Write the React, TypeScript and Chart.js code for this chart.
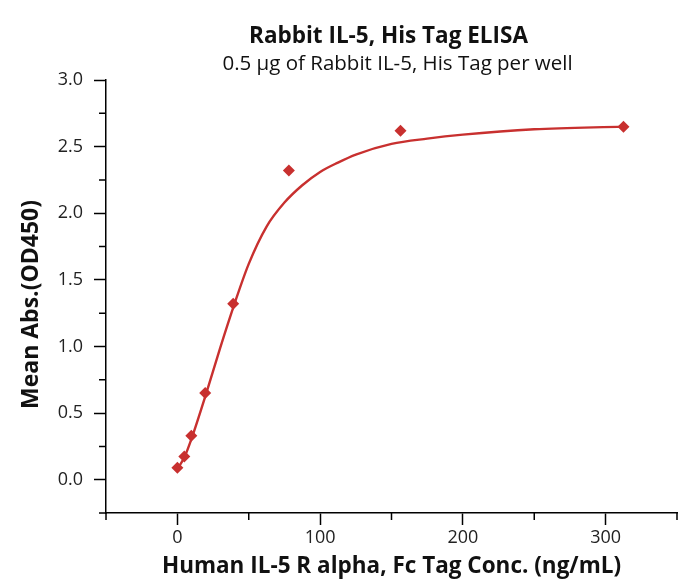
import React, { useEffect, useRef } from 'react';
import { Chart, registerables } from 'chart.js';

Chart.register(...registerables);

const TITLE = 'Rabbit IL-5, His Tag ELISA';
const SUBTITLE = '0.5 µg of Rabbit IL-5, His Tag per well';
const X_TITLE = 'Human IL-5 R alpha, Fc Tag Conc. (ng/mL)';
const Y_TITLE = 'Mean Abs.(OD450)';

// measured points
const concentrations = [0, 4.88, 9.77, 19.5, 39.1, 78.1, 156.3, 312.5];
const meanAbs = [0.09, 0.175, 0.33, 0.65, 1.32, 2.32, 2.62, 2.65];

// fitted curve
const fitX = [0, 5, 10, 20, 30, 40, 50, 62.5, 75, 87.5, 100, 112.5, 125, 150, 175, 200, 250, 312.5];
const fitY = [0.08, 0.17, 0.31, 0.64, 0.99, 1.32, 1.62, 1.9, 2.08, 2.21, 2.31, 2.38, 2.44, 2.52, 2.56, 2.59, 2.63, 2.65];

const xMajorTicks = [0, 100, 200, 300];
const xMinorTicks = [-50, 50, 150, 250, 350];
const yMajorTicks = [0, 0.5, 1, 1.5, 2, 2.5, 3];
const yMinorTicks = [-0.25, 0.25, 0.75, 1.25, 1.75, 2.25, 2.75];

const RED = '#c8302f';
const FONT = "'Open Sans', 'DejaVu Sans', sans-serif";

export default function App() {
  const ref = useRef<HTMLCanvasElement | null>(null);

  useEffect(() => {
    if (!ref.current) return;

    const decorations = {
      id: 'decorations',
      afterDraw(chart: any) {
        const ctx = chart.ctx;
        const xs = chart.scales.x;
        const ys = chart.scales.y;
        const area = chart.chartArea;
        ctx.save();
        ctx.strokeStyle = '#000';
        ctx.lineWidth = 1.5;
        ctx.beginPath();
        xMinorTicks.forEach((v) => {
          const px = xs.getPixelForValue(v);
          ctx.moveTo(px, area.bottom);
          ctx.lineTo(px, area.bottom + 7);
        });
        yMinorTicks.forEach((v) => {
          const py = ys.getPixelForValue(v);
          ctx.moveTo(area.left - 7, py);
          ctx.lineTo(area.left, py);
        });
        ctx.stroke();

        const cx = (area.left + area.right) / 2;
        ctx.fillStyle = '#111';
        ctx.textAlign = 'center';
        ctx.textBaseline = 'alphabetic';
        ctx.font = `bold 22.5px ${FONT}`;
        ctx.fillText(TITLE, cx - 3, 43);
        ctx.font = `20.5px ${FONT}`;
        ctx.fillText(SUBTITLE, cx + 6, 70);

        // y axis title
        ctx.translate(31, (area.top + area.bottom) / 2 + 8);
        ctx.rotate(-Math.PI / 2);
        ctx.textBaseline = 'middle';
        ctx.font = `bold 23px ${FONT}`;
        ctx.fillText(Y_TITLE, 0, 0);
        ctx.restore();
      },
    };

    const chart = new Chart(ref.current, {
      type: 'scatter',
      data: {
        datasets: [
          {
            type: 'line',
            label: 'fit',
            data: fitX.map((x, i) => ({ x, y: fitY[i] })),
            borderColor: RED,
            borderWidth: 2.4,
            pointRadius: 0,
            cubicInterpolationMode: 'monotone',
            fill: false,
          },
          {
            type: 'scatter',
            label: 'data',
            data: concentrations.map((x, i) => ({ x, y: meanAbs[i] })),
            backgroundColor: RED,
            borderColor: RED,
            pointStyle: 'rectRot',
            pointRadius: 6,
            borderWidth: 0,
          },
        ],
      } as any,
      options: {
        animation: false,
        responsive: false,
        maintainAspectRatio: false,
        layout: { padding: { top: 80, right: 3, left: 0, bottom: 0 } },
        plugins: {
          legend: { display: false },
          tooltip: { enabled: false },
          title: { display: false },
        },
        scales: {
          x: {
            type: 'linear',
            min: -50,
            max: 350,
            afterBuildTicks: (s: any) => {
              s.ticks = xMajorTicks.map((value) => ({ value }));
            },
            afterFit: (s: any) => {
              s.height = 72;
            },
            ticks: {
              color: '#222',
              font: { family: FONT, size: 18 },
              padding: 2,
              maxRotation: 0,
              callback: (v: any) => String(v),
            },
            grid: {
              display: true,
              drawOnChartArea: false,
              drawTicks: true,
              tickLength: 12,
              tickColor: '#000',
              tickWidth: 1.5,
            },
            border: { display: true, color: '#000', width: 1.5 },
            title: {
              display: true,
              text: X_TITLE,
              color: '#111',
              font: { family: FONT, size: 22.5, weight: 'bold' },
              padding: { top: 0, bottom: 5 },
            },
          },
          y: {
            type: 'linear',
            min: -0.25,
            max: 3,
            afterBuildTicks: (s: any) => {
              s.ticks = yMajorTicks.map((value) => ({ value }));
            },
            afterFit: (s: any) => {
              s.width = 106;
            },
            ticks: {
              color: '#222',
              font: { family: FONT, size: 18 },
              padding: 11,
              callback: (v: any) => Number(v).toFixed(1),
            },
            grid: {
              display: true,
              drawOnChartArea: false,
              drawTicks: true,
              tickLength: 12,
              tickColor: '#000',
              tickWidth: 1.5,
            },
            border: { display: true, color: '#000', width: 1.5 },
            title: { display: false },
          },
        },
      } as any,
      plugins: [decorations],
    });

    return () => chart.destroy();
  }, []);

  return (
    <div style={{ position: 'absolute', left: 0, top: 0, width: 683, height: 585, background: '#fff' }}>
      <canvas ref={ref} width={683} height={585} style={{ width: 683, height: 585 }} />
    </div>
  );
}
